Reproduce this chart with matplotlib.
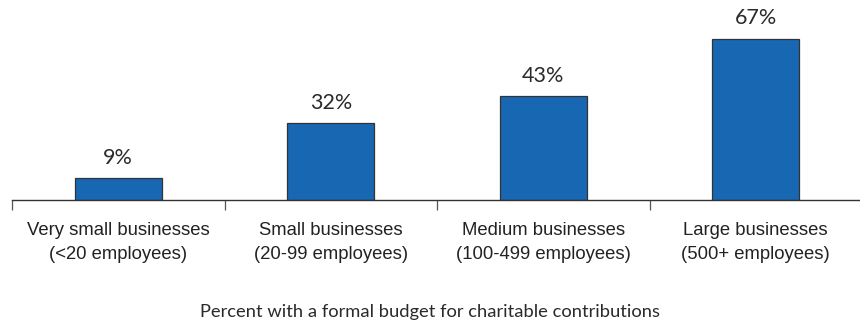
import matplotlib
matplotlib.use("Agg")
import matplotlib.pyplot as plt
import numpy as np

categories = ["Very small businesses\n(<20 employees)",
              "Small businesses\n(20-99 employees)",
              "Medium businesses\n(100-499 employees)",
              "Large businesses\n(500+ employees)"]
values = [9, 32, 43, 67]
xlabel = "Percent with a formal budget for charitable contributions"

fig = plt.figure(figsize=(8.6, 3.21), dpi=100)
ax = fig.add_axes([12 / 860, 121 / 321, 850 / 860, 200 / 321])

x = np.arange(len(values))
ax.bar(x, values, width=0.41, color="#1767b2", edgecolor="#333333", linewidth=0.9, zorder=2)

for xi, v in zip(x, values):
    ax.text(xi, v + 4.2, f"{v}%", ha="center", va="bottom",
            fontsize=15.5, family="Lato", color="#2a2a2a")

ax.set_xlim(-0.5, 3.5)
ax.set_ylim(0, 83)

for s in ["top", "right", "left"]:
    ax.spines[s].set_visible(False)
ax.spines["bottom"].set_color("#333333")
ax.spines["bottom"].set_linewidth(1.0)
ax.set_yticks([])

ax.set_xticks(x)
ax.set_xticklabels(categories, fontsize=13.3, family="Liberation Sans",
                   color="#222222", linespacing=1.5)
ax.tick_params(axis="x", which="major", length=0, pad=16)
ax.set_xticks(np.arange(-0.5, 4.0, 1.0), minor=True)
ax.tick_params(axis="x", which="minor", length=7, width=0.9, color="#555555")

fig.text(0.5, 1 - 312 / 321, xlabel, ha="center", va="center",
         fontsize=13.2, family="Lato", color="#2a2a2a")

fig.savefig("out.png", dpi=100)
